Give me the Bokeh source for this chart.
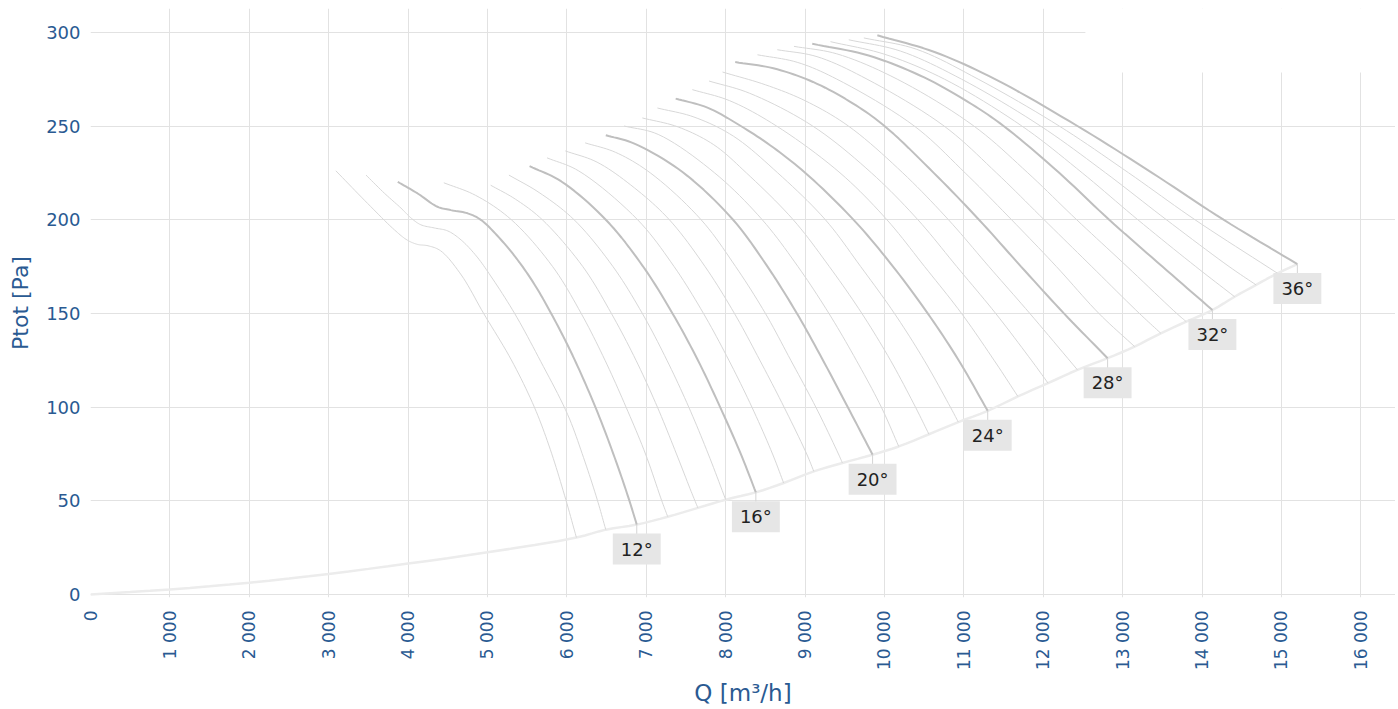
import math
from bokeh.plotting import figure
from bokeh.models import Range1d, FixedTicker, Label, BoxAnnotation
from bokeh.embed import file_html
from bokeh.resources import INLINE

# ---------------- data (Q in m3/h, Ptot in Pa) ----------------
ANGLES = list(range(10, 37))
LABELED = [12, 16, 20, 24, 28, 32, 36]

Q10 = [3090, 3490, 3830, 3990, 4120, 4250, 4410, 4670, 4950, 5300, 5590, 5790, 5970, 6120]
P10 = [226.1, 208.7, 194.5, 189.1, 186.8, 186.1, 183.4, 170.5, 150.1, 125.2, 100, 77.5, 53, 30.4]
Q11 = [3470, 3700, 3910, 4040, 4160, 4330, 4500, 4670, 4860, 5040, 5340, 5670, 6010, 6210, 6380, 6490]
P11 = [223.8, 214.2, 206.2, 200.8, 197.3, 195.6, 194.0, 189.1, 180.6, 170, 150.1, 124.4, 96, 73, 50.9, 34.6]
Q12 = [3870, 4120, 4370, 4540, 4750, 4920, 5170, 5380, 5590, 5800, 6010, 6220, 6430, 6640, 6780, 6880]
P12 = [220.2, 214.0, 206.9, 205.1, 203.4, 199.8, 189.3, 178.5, 165.6, 150.1, 133, 113.8, 92.5, 68.5, 51, 37.3]
Q13 = [4450, 4850, 5300, 5820, 6180, 6480, 6745, 6990, 7195, 7270]
P13 = [219.7, 213, 200, 175, 150, 125, 100, 75, 50, 41.5]
Q14 = [5040, 5350, 5690, 6200, 6560, 6870, 7140, 7380, 7565, 7650]
P14 = [218.4, 211, 200, 175, 150, 125, 100, 75, 55, 46.2]
Q15 = [5270, 5650, 6090, 6580, 6950, 7260, 7535, 7780, 8000]
P15 = [223.8, 214.5, 200, 175, 150, 125, 100, 75, 50.6]
Q16 = [5530, 5930, 6490, 6960, 7330, 7650, 7930, 8190, 8380]
P16 = [228.6, 220.4, 200, 175, 150, 125, 100, 75, 54.5]
Q17 = [5750, 6150, 6890, 7350, 7720, 8040, 8330, 8590, 8730]
P17 = [233.0, 226, 200, 175, 150, 125, 100, 75, 59.5]
Q18 = [5980, 6380, 6850, 7290, 7740, 8110, 8430, 8735, 9020, 9110]
P18 = [236.7, 230.7, 217, 200, 175, 150, 125, 100, 75, 65.7]
Q19 = [6230, 6610, 7050, 7690, 8125, 8500, 8820, 9135, 9420, 9470]
P19 = [241.0, 236, 225, 200, 175, 150, 125, 100, 75, 70.2]
Q20 = [6490, 6850, 7460, 8090, 8510, 8890, 9215, 9530, 9850]
P20 = [245.1, 240.6, 225.3, 200.1, 176, 150.5, 125.8, 100.6, 74.6]
Q21 = [6720, 7150, 7860, 8460, 8910, 9300, 9645, 9960, 10180]
P21 = [250.0, 245.5, 225, 200, 175, 150, 125, 100, 79.0]
Q22 = [6950, 7400, 7850, 8260, 8850, 9305, 9715, 10075, 10390, 10560]
P22 = [254.3, 249.5, 240, 225, 200, 175, 150, 125, 100, 85.5]
Q23 = [7140, 7600, 8100, 8655, 9255, 9700, 10125, 10500, 10830, 10930]
P23 = [259.6, 254.8, 244.5, 225, 200, 175, 150, 125, 100, 92.0]
Q24 = [7370, 7770, 8190, 8600, 9050, 9640, 10100, 10540, 10930, 11300]
P24 = [264.6, 259.8, 250, 238.5, 223.2, 198.6, 175.4, 150.3, 125.3, 98.0]
Q25 = [7580, 8050, 8640, 9440, 10030, 10505, 10970, 11380, 11680]
P25 = [269.4, 263.5, 250, 225, 200, 175, 150, 125, 105.7]
Q26 = [7790, 8300, 9095, 9835, 10420, 10910, 11400, 11850, 12060]
P26 = [274.0, 267.5, 250, 225, 200, 175, 150, 125, 112.8]
Q27 = [7960, 8500, 9000, 9545, 10230, 10805, 11315, 11830, 12430]
P27 = [278.8, 272, 263.5, 250, 225, 200, 175, 150, 119.9]
Q28 = [8120, 8600, 9100, 9600, 10000, 10620, 11190, 11720, 12260, 12810]
P28 = [284.1, 280.8, 273.5, 262.1, 250, 225, 200, 175, 150, 126.1]
Q29 = [8400, 8900, 9400, 10375, 11015, 11600, 12165, 12700, 13150]
P29 = [288.0, 284, 275, 250, 225, 200, 175, 150, 132.3]
Q30 = [8650, 9150, 9780, 10750, 11410, 12010, 12610, 13210, 13480]
P30 = [290.7, 287, 275, 250, 225, 200, 175, 150, 139.4]
Q31 = [8860, 9400, 10160, 11125, 11805, 12420, 13055, 13680, 13800]
P31 = [292.5, 288.5, 275, 250, 225, 200, 175, 150, 145.6]
Q32 = [9090, 9800, 10500, 11100, 11500, 12200, 12830, 13500, 14130]
P32 = [293.9, 287.6, 275.9, 261.6, 250, 225, 200, 175, 151.8]
Q33 = [9320, 10000, 10755, 11730, 12490, 13190, 13920, 14410]
P33 = [295.0, 288.3, 275, 250, 225, 200, 175, 158.9]
Q34 = [9550, 10200, 10970, 11965, 12785, 13550, 14340, 14680]
P34 = [296.0, 290, 275, 250, 225, 200, 175, 165.2]
Q35 = [9740, 10400, 11180, 12200, 13075, 13910, 14950]
P35 = [297.0, 291, 275, 250, 225, 200, 171.4]
Q36 = [9910, 10630, 11392, 12430, 13370, 14270, 15200]
P36 = [298.4, 289.5, 275, 250, 225, 200, 176.3]

# system (minimum) curve below the first fan curve
SYS_Q_LOW = [0, 1000, 2000, 3000, 4000, 5000]
SYS_P_LOW = [0, 2.7, 6.3, 11.0, 16.5, 22.5]

X_TICKS = list(range(0, 17000, 1000))
Y_TICKS = [0, 50, 100, 150, 200, 250, 300]

_g = globals()
CURVES = {a: (_g["Q%d" % a], _g["P%d" % a]) for a in ANGLES}

# ---------------- figure ----------------
FONT = "DejaVu Sans"
BLUE = "#2a5a92"
X0, X1 = 0, 16436
Y0, Y1 = -1.6, 312.7
FRAME_W, FRAME_H = 1305, 590
SX, SY = FRAME_W / (X1 - X0), FRAME_H / (Y1 - Y0)


def spline(q, pp, n=10):
    """Centripetal Catmull-Rom drawing of the read points (spline line shape)."""
    pts = [(a * SX, b * SY) for a, b in zip(q, pp)]
    if len(pts) < 3:
        return list(q), list(pp)
    ext = ([(2 * pts[0][0] - pts[1][0], 2 * pts[0][1] - pts[1][1])] + pts +
           [(2 * pts[-1][0] - pts[-2][0], 2 * pts[-1][1] - pts[-2][1])])
    xs, ys = [pts[0][0]], [pts[0][1]]

    def lerp(pa, pb, ta, tb, t):
        wa, wb = (tb - t) / (tb - ta), (t - ta) / (tb - ta)
        return (wa * pa[0] + wb * pb[0], wa * pa[1] + wb * pb[1])

    for i in range(1, len(ext) - 2):
        p0, p1, p2, p3 = ext[i - 1], ext[i], ext[i + 1], ext[i + 2]
        t0 = 0.0
        t1 = t0 + math.dist(p0, p1) ** 0.5
        t2 = t1 + math.dist(p1, p2) ** 0.5
        t3 = t2 + math.dist(p2, p3) ** 0.5
        for k in range(1, n + 1):
            t = t1 + (t2 - t1) * k / n
            a1 = lerp(p0, p1, t0, t1, t)
            a2 = lerp(p1, p2, t1, t2, t)
            a3 = lerp(p2, p3, t2, t3, t)
            b1 = lerp(a1, a2, t0, t2, t)
            b2 = lerp(a2, a3, t1, t3, t)
            c = lerp(b1, b2, t1, t2, t)
            xs.append(c[0])
            ys.append(c[1])
    return [v / SX for v in xs], [v / SY for v in ys]


p = figure(width=1395, height=708, output_backend="svg", toolbar_location=None,
           x_range=Range1d(X0, X1), y_range=Range1d(Y0, Y1),
           min_border_left=90, min_border_right=0, min_border_top=8,
           min_border_bottom=110)
p.outline_line_color = None

# grids
p.xgrid.ticker = FixedTicker(ticks=X_TICKS[1:])
p.ygrid.ticker = FixedTicker(ticks=Y_TICKS)
for g in (p.xgrid, p.ygrid):
    g.grid_line_color = "#e2e2e2"
    g.grid_line_width = 1

# axes
p.xaxis.ticker = FixedTicker(ticks=X_TICKS)
p.yaxis.ticker = FixedTicker(ticks=Y_TICKS)
p.xaxis.major_label_overrides = {t: "{:,}".format(t).replace(",", " ") for t in X_TICKS}
p.xaxis.major_label_orientation = math.pi / 2
for ax in (p.xaxis, p.yaxis):
    ax.axis_line_color = None
    ax.major_tick_line_color = None
    ax.minor_tick_line_color = None
    ax.major_tick_out = 0
    ax.major_tick_in = 0
    ax.major_label_text_font = FONT
    ax.major_label_text_color = BLUE
    ax.axis_label_text_font = FONT
    ax.axis_label_text_font_style = "normal"
    ax.axis_label_text_color = BLUE
p.xaxis.major_label_text_font_size = "17px"
p.yaxis.major_label_text_font_size = "18px"
p.xaxis.axis_label_text_font_size = "23px"
p.yaxis.axis_label_text_font_size = "22px"
p.xaxis.axis_label = "Q [m³/h]"
p.yaxis.axis_label = "Ptot [Pa]"
p.xaxis.major_label_standoff = 13
p.xaxis.axis_label_standoff = 7
p.yaxis.major_label_standoff = 10
p.yaxis.axis_label_standoff = 10

# blank area (top right)
p.add_layout(BoxAnnotation(left=12530, bottom=278.6, fill_color="white",
                           fill_alpha=1.0, line_color=None))

# system curve through the end points
sys_q = SYS_Q_LOW + [CURVES[a][0][-1] for a in ANGLES]
sys_p = SYS_P_LOW + [CURVES[a][1][-1] for a in ANGLES]
sq, sp = spline(sys_q, sys_p, 4)
p.line(sq, sp, line_color="#ececec", line_width=2.5)

# fan curves
for a in ANGLES:
    if a not in LABELED:
        cq, cp = spline(*CURVES[a])
        p.line(cq, cp, line_color="#d8d8d8", line_width=1)
for a in LABELED:
    cq, cp = spline(*CURVES[a])
    p.line(cq, cp, line_color="#bfbfbf", line_width=2)

# labels with short connectors
dy = 10 / SY
for a in LABELED:
    q, pp = CURVES[a]
    p.segment(x0=[q[-1]], y0=[pp[-1]], x1=[q[-1]], y1=[pp[-1] - dy],
              line_color="#d4d4d4", line_width=1)
    p.add_layout(Label(x=q[-1], y=pp[-1], y_offset=-9, text="%d°" % a,
                       anchor="top_center", text_font=FONT,
                       text_font_size="18px", text_color="#222222",
                       background_fill_color="#e6e6e6", padding=(8, 5)))

open("out.html", "w").write(file_html(p, INLINE))
